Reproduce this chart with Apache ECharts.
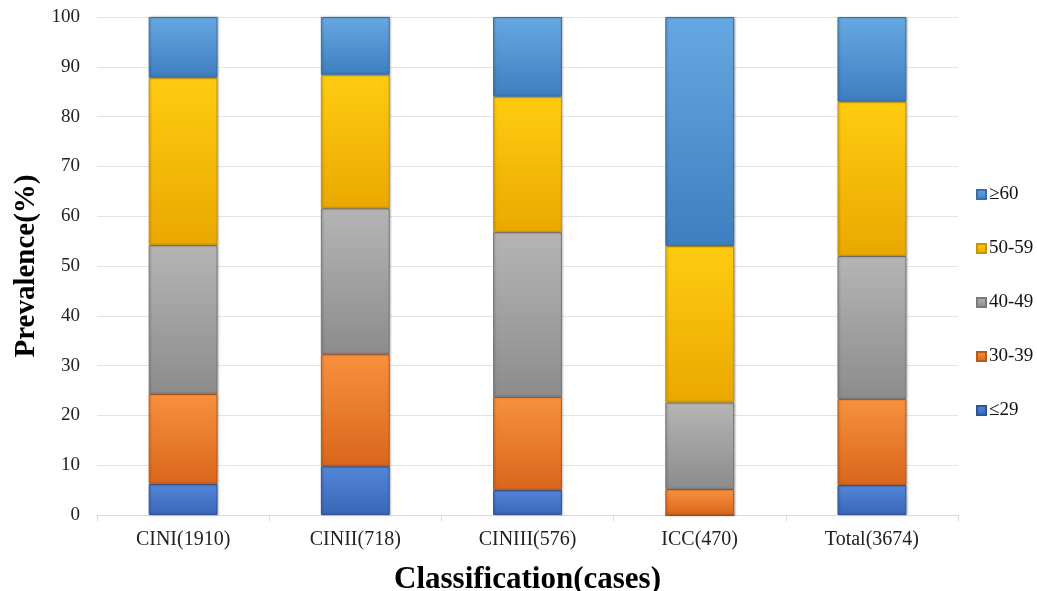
<!DOCTYPE html>
<html>
<head>
<meta charset="utf-8">
<script src="https://cdn.jsdelivr.net/npm/echarts@6/dist/echarts.min.js"></script>
<style>
  html, body { margin: 0; padding: 0; background: #fff; }
  #chart { width: 1037px; height: 591px; }
</style>
</head>
<body>
<div id="chart"></div>
<script>
// Age-group prevalence (%) by lesion classification
const categories = ['CINI(1910)', 'CINII(718)', 'CINIII(576)', 'ICC(470)', 'Total(3674)'];
const ageGroups = ['≤29', '30-39', '40-49', '50-59', '≥60'];
const age29 = [6.2, 9.8, 5.0, 0, 6.0];
const age30_39 = [18.1, 22.5, 18.7, 5.2, 17.3];
const age40_49 = [29.9, 29.3, 33.1, 17.4, 28.7];
const age50_59 = [33.6, 26.8, 27.2, 31.4, 31.0];
const age60 = [12.2, 11.6, 16.0, 46.0, 17.0];
const yTicks = [0, 10, 20, 30, 40, 50, 60, 70, 80, 90, 100];

const seriesValues = [age29, age30_39, age40_49, age50_59, age60];
// top, bottom, border colours for a bevelled look
const palette = [
  ['#5286DA', '#3A66B6', '#2F5597'],
  ['#F8913E', '#D9661C', '#B85A1A'],
  ['#B5B5B5', '#8C8C8C', '#7A7A7A'],
  ['#FFCC10', '#EAA800', '#C99600'],
  ['#66A8E2', '#3E7EC0', '#3A6FA5']
];

const font = '"Liberation Serif", "Times New Roman", serif';

const series = seriesValues.map((vals, i) => ({
  name: ageGroups[i],
  type: 'bar',
  stack: 'total',
  barWidth: '40%',
  data: vals,
  itemStyle: {
    color: {
      type: 'linear', x: 0, y: 0, x2: 0, y2: 1,
      colorStops: [
        { offset: 0, color: palette[i][0] },
        { offset: 1, color: palette[i][1] }
      ]
    },
    borderColor: palette[i][2],
    borderWidth: 1,
    shadowColor: 'rgba(0,0,0,0.25)',
    shadowBlur: 2,
    shadowOffsetX: 1,
    shadowOffsetY: 0
  }
}));

const chart = echarts.init(document.getElementById('chart'), null, { renderer: 'canvas' });
chart.setOption({
  animation: false,
  backgroundColor: '#ffffff',
  textStyle: { fontFamily: font },
  grid: { left: 97, right: 79, top: 17, bottom: 76, outerBoundsMode: 'none', containLabel: false },
  legend: {
    orient: 'vertical',
    left: 971,
    top: 180,
    itemWidth: 9,
    itemHeight: 9,
    itemGap: 35,
    icon: 'rect',
    data: ageGroups.slice().reverse(),
    textStyle: { fontFamily: font, fontSize: 19, color: '#111', padding: [0, 0, 0, -2] }
  },
  xAxis: {
    type: 'category',
    data: categories,
    name: 'Classification(cases)',
    nameLocation: 'middle',
    nameGap: 49,
    nameTextStyle: { fontFamily: font, fontSize: 31, fontWeight: 'bold', color: '#000' },
    axisLine: { lineStyle: { color: '#D9D9D9', width: 1 } },
    axisTick: { show: true, alignWithLabel: false, length: 6, lineStyle: { color: '#D9D9D9' } },
    axisLabel: { fontFamily: font, fontSize: 20, color: '#222', margin: 15 }
  },
  yAxis: {
    type: 'value',
    min: yTicks[0],
    max: yTicks[yTicks.length - 1],
    interval: 10,
    name: 'Prevalence(%)',
    nameLocation: 'middle',
    nameGap: 50,
    nameTextStyle: { fontFamily: font, fontSize: 29, fontWeight: 'bold', color: '#000' },
    axisLine: { show: false },
    axisTick: { show: false },
    axisLabel: { fontFamily: font, fontSize: 19, color: '#222', margin: 17 },
    splitLine: { lineStyle: { color: '#E3E3E3', width: 1 } }
  },
  series: series
});
</script>
</body>
</html>
